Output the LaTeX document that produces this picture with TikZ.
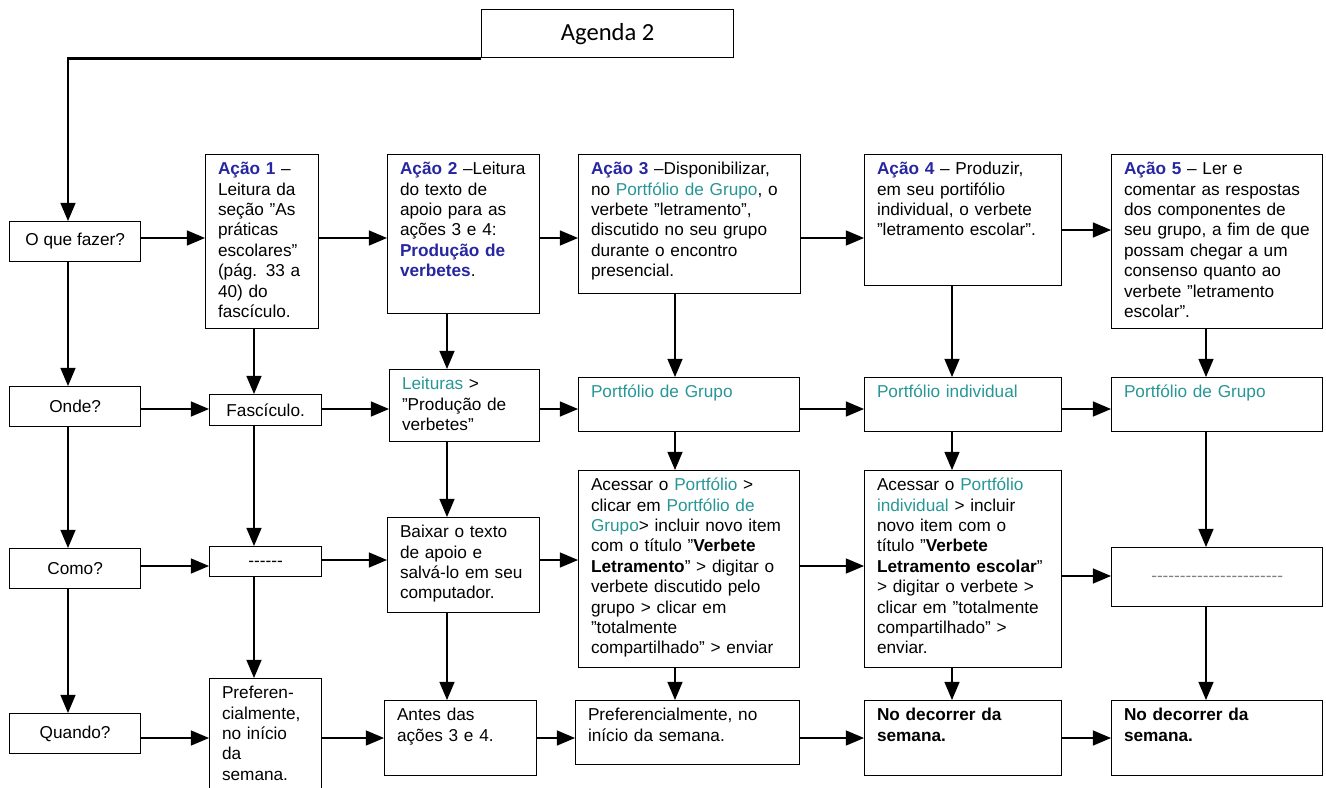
\documentclass[tikz,border=0pt]{standalone}
\usepackage{fontspec}
\setmainfont{Liberation Sans}
\newfontfamily\agendafont{Carlito}
\usetikzlibrary{arrows}
\definecolor{acaoazul}{RGB}{38,38,160}
\definecolor{portteal}{RGB}{40,150,150}
\newcommand{\acao}[1]{\textcolor{acaoazul}{\textbf{Ação #1}}}
\newcommand{\port}[1]{\textcolor{portteal}{#1}}
\newcommand{\tracos}[1]{\foreach \n in {1,...,#1}{-\kern0pt}}

\begin{document}
\begin{tikzpicture}[
     x=0.02cm, y=-0.02cm,
     caixa/.style={draw, line width=0.8pt, anchor=north west, align=left,
       inner xsep=7pt, inner ysep=4pt, text height=7.4pt,
       font=\fontsize{9.8}{11.6}\selectfont},
     rotulo/.style={draw, line width=0.8pt, anchor=north west, inner sep=0pt,
       font=\fontsize{9.8}{11.6}\selectfont},
     pergunta/.style={rotulo, minimum width=74.5pt, minimum height=22.5pt},
     vazio/.style={rotulo, text height=5.3pt, text depth=0pt},
     seta/.style={-triangle 45, line width=1.4pt}
   ]
   \path[use as bounding box] (0,0) rectangle (1326,788);
   % Title and the four questions.
   \node[rotulo, minimum width=143.4pt, minimum height=27.3pt,
     font=\agendafont\fontsize{14}{16}\selectfont] (titulo) at (481,9) {Agenda 2};
   \node[pergunta] (oque) at (9,221) {O que fazer?};
   \node[pergunta] (onde) at (9,386) {Onde?};
   \node[pergunta] (como) at (9,548) {Como?};
   \node[pergunta] (quando) at (9,713) {Quando?};
   % Acao 1.
   \node[caixa, text width=50.3pt, text depth=83.6pt] (a1) at (205,154)
     {\acao{1} –\\Leitura da\\seção "As\\práticas\\escolares"\\(pág. 33 a\\40) do\\fascículo.};
   \node[rotulo, minimum width=63.7pt, minimum height=17.6pt] (fasc) at (209,394) {Fascículo.};
   \node[vazio, minimum width=63.7pt, minimum height=17.1pt] (traco1) at (209,546) {\tracos{6}};
   \node[caixa, text width=49.7pt, text depth=54pt] (pref1) at (209,678)
     {Preferen-\\cialmente,\\no início\\da\\semana.};
   % Acao 2.
   \node[caixa, text width=72.5pt, text depth=75.1pt] (a2) at (387,154)
     {\acao{2} –Leitura\\do texto de\\apoio para as\\ações 3 e 4:\\
      \textcolor{acaoazul}{\textbf{Produção de}}\\\textcolor{acaoazul}{\textbf{verbetes}}.};
   \node[caixa, text width=71.4pt, text depth=25.6pt] (leit) at (389,369)
     {\port{Leituras} >\\"Produção de\\verbetes"};
   \node[caixa, text width=72.5pt, text depth=38.7pt] (baixar) at (387,517)
     {Baixar o texto\\de apoio e\\salvá-lo em seu\\computador.};
   \node[caixa, text width=72.5pt, text depth=27.3pt] (antes) at (384,700)
     {Antes das\\ações 3 e 4.};
   % Acao 3.
   \node[caixa, text width=112.3pt, text depth=63.7pt] (a3) at (578,154)
     {\acao{3} –Disponibilizar,\\no \port{Portfólio de Grupo}, o\\verbete "letramento",\\
      discutido no seu grupo\\durante o encontro\\presencial.};
   \node[caixa, text width=111.8pt, text depth=15.3pt] (pg1) at (578,377)
     {\port{Portfólio de Grupo}};
   \node[caixa, text width=111.8pt, text depth=96.7pt] (acess1) at (578,470)
     {Acessar o \port{Portfólio} >\\clicar em \port{Portfólio de}\\\port{Grupo}> incluir novo item\\
      com o título "\textbf{Verbete}\\\textbf{Letramento}" > digitar o\\verbete discutido pelo\\
      grupo > clicar em\\"totalmente\\compartilhado" > enviar};
   \node[caixa, text width=113.5pt, text depth=21pt] (pref2) at (575,700)
     {Preferencialmente, no\\início da semana.};
   % Acao 4.
   \node[caixa, text width=98.1pt, text depth=59.1pt] (a4) at (864,154)
     {\acao{4} – Produzir,\\em seu portifólio\\individual, o verbete\\"letramento escolar".};
   \node[caixa, text width=98.1pt, text depth=15.3pt] (pind) at (864,377)
     {\port{Portfólio individual}};
   \node[caixa, text width=98.1pt, text depth=96.7pt] (acess2) at (864,470)
     {Acessar o \port{Portfólio}\\\port{individual} > incluir\\novo item com o\\título "\textbf{Verbete}\\
      \textbf{Letramento escolar}"\\> digitar o verbete >\\clicar em "totalmente\\compartilhado" >\\enviar.};
   \node[caixa, text width=98.1pt, text depth=27.3pt] (dec1) at (864,700)
     {\textbf{No decorrer da}\\\textbf{semana.}};
   % Acao 5.
   \node[caixa, text width=106.1pt, text depth=83.6pt] (a5) at (1111,154)
     {\acao{5} – Ler e\\comentar as respostas\\dos componentes de\\seu grupo, a fim de que\\
      possam chegar a um\\consenso quanto ao\\verbete "letramento\\escolar".};
   \node[caixa, text width=106.1pt, text depth=15.3pt] (pg2) at (1111,377)
     {\port{Portfólio de Grupo}};
   \node[vazio, minimum width=120.1pt, minimum height=33.6pt] (traco2) at (1111,547)
     {\textcolor{gray}{\tracos{23}}};
   \node[caixa, text width=106.1pt, text depth=27.3pt] (dec2) at (1111,700)
     {\textbf{No decorrer da}\\\textbf{semana.}};
   % Columns and rows of the arrows.
   \coordinate (c0) at (68,0);
   \coordinate (c1) at (254,0);
   \coordinate (c2) at (447,0);
   \coordinate (c3) at (675,0);
   \coordinate (c4) at (952,0);
   \coordinate (c5) at (1206,0);
   \coordinate (r1) at (0,238);
   \coordinate (r1b) at (0,230);
   \coordinate (r2) at (0,409);
   \coordinate (r3) at (0,566);
   \coordinate (r3b) at (0,560);
   \coordinate (r3c) at (0,576);
   \coordinate (r4) at (0,738);
   % Arrows.
   \draw[seta] (titulo.south west) -| (oque.north -| c0);
   \foreach \a/\b/\lin in {oque/a1/r1, a1/a2/r1, a2/a3/r1, a3/a4/r1, a4/a5/r1b,
       onde/fasc/r2, fasc/leit/r2, leit/pg1/r2, pg1/pind/r2, pind/pg2/r2,
       como/traco1/r3, traco1/baixar/r3b, baixar/acess1/r3b, acess1/acess2/r3, acess2/traco2/r3c,
       quando/pref1/r4, pref1/antes/r4, antes/pref2/r4, pref2/dec1/r4, dec1/dec2/r4}
     \draw[seta] (\a.east |- \lin) -- (\b.west |- \lin);
   \foreach \a/\b/\col in {oque/onde/c0, onde/como/c0, como/quando/c0,
       a1/fasc/c1, fasc/traco1/c1, traco1/pref1/c1,
       a2/leit/c2, leit/baixar/c2, baixar/antes/c2,
       a3/pg1/c3, pg1/acess1/c3, acess1/pref2/c3,
       a4/pind/c4, pind/acess2/c4, acess2/dec1/c4,
       a5/pg2/c5, pg2/traco2/c5, traco2/dec2/c5}
     \draw[seta] (\a.south -| \col) -- (\b.north -| \col);
 \end{tikzpicture}
\end{document}
